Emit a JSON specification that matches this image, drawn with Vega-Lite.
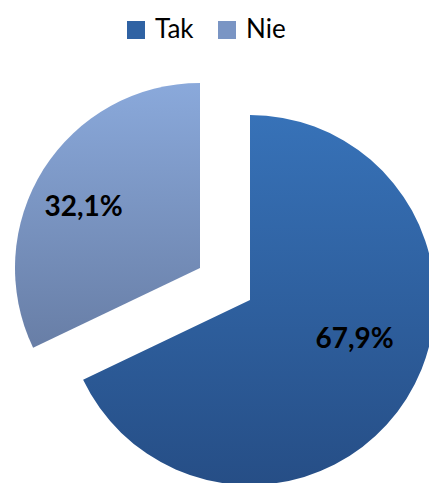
{
  "$schema": "https://vega.github.io/schema/vega-lite/v6.json",
  "width": 370,
  "height": 370,
  "autosize": {"type": "none"},
  "padding": {"left": 65, "top": 115, "right": 0, "bottom": 0},
  "background": "white",
  "config": {"view": {"stroke": null}},
  "data": {
    "values": [
      {"cat": "Tak", "value": 67.9, "label": "67,9%"},
      {"cat": "Nie", "value": 32.1, "label": "32,1%"}
    ]
  },
  "encoding": {
    "theta": {"field": "value", "type": "quantitative", "stack": true},
    "order": {"field": "value", "sort": "descending"}
  },
  "layer": [
    {
      "mark": {"type": "arc", "opacity": 0},
      "encoding": {
        "color": {
          "field": "cat",
          "type": "nominal",
          "sort": ["Tak", "Nie"],
          "scale": {"domain": ["Tak", "Nie"], "range": ["#2F62A3", "#7A95C4"]},
          "legend": {
            "title": null,
            "orient": "none",
            "direction": "horizontal",
            "legendX": 58,
            "legendY": -98,
            "symbolType": "square",
            "symbolSize": 324,
            "symbolStrokeWidth": 0,
            "symbolOpacity": 1,
            "labelFont": "Lato",
            "labelFontSize": 26,
            "labelColor": "black",
            "labelOffset": 6,
            "columnPadding": 20,
            "encode": {
              "symbols": {
                "update": {
                  "fill": [
                    {"test": "datum.value === 'Tak'", "value": {"gradient": "linear", "x1": 0, "y1": 0, "x2": 0, "y2": 1, "stops": [{"offset": 0, "color": "#3370B8"}, {"offset": 1, "color": "#23508C"}]}},
                    {"value": {"gradient": "linear", "x1": 0, "y1": 0, "x2": 0, "y2": 1, "stops": [{"offset": 0, "color": "#8AA9DB"}, {"offset": 1, "color": "#6A80A8"}]}}
                  ]
                }
              }
            }
          }
        }
      }
    },
    {
      "mark": {"type": "arc", "fill": {"gradient": "linear", "x1": 0, "y1": 0, "x2": 0, "y2": 1, "stops": [{"offset": 0, "color": "#3772B8"}, {"offset": 1, "color": "#264E86"}]}},
      "encoding": {
        "detail": {"field": "cat"},
        "opacity": {"condition": {"test": "datum.cat === 'Tak'", "value": 1}, "value": 0}
      }
    },
    {
      "mark": {"type": "arc", "xOffset": -50, "yOffset": -32, "fill": {"gradient": "linear", "x1": 0, "y1": 0, "x2": 0, "y2": 1, "stops": [{"offset": 0, "color": "#8AA9DB"}, {"offset": 1, "color": "#687EA6"}]}},
      "encoding": {
        "detail": {"field": "cat"},
        "opacity": {"condition": {"test": "datum.cat === 'Nie'", "value": 1}, "value": 0}
      }
    },
    {
      "mark": {"type": "text", "radius": 112, "thetaOffset": -0.197, "font": "Lato", "fontSize": 28, "fontWeight": "bold", "color": "black"},
      "encoding": {
        "text": {"field": "label"},
        "detail": {"field": "cat"},
        "opacity": {"condition": {"test": "datum.cat === 'Tak'", "value": 1}, "value": 0}
      }
    },
    {
      "mark": {"type": "text", "radius": 131, "thetaOffset": -0.087, "xOffset": -50, "yOffset": -32, "font": "Lato", "fontSize": 28, "fontWeight": "bold", "color": "black"},
      "encoding": {
        "text": {"field": "label"},
        "detail": {"field": "cat"},
        "opacity": {"condition": {"test": "datum.cat === 'Nie'", "value": 1}, "value": 0}
      }
    }
  ]
}
